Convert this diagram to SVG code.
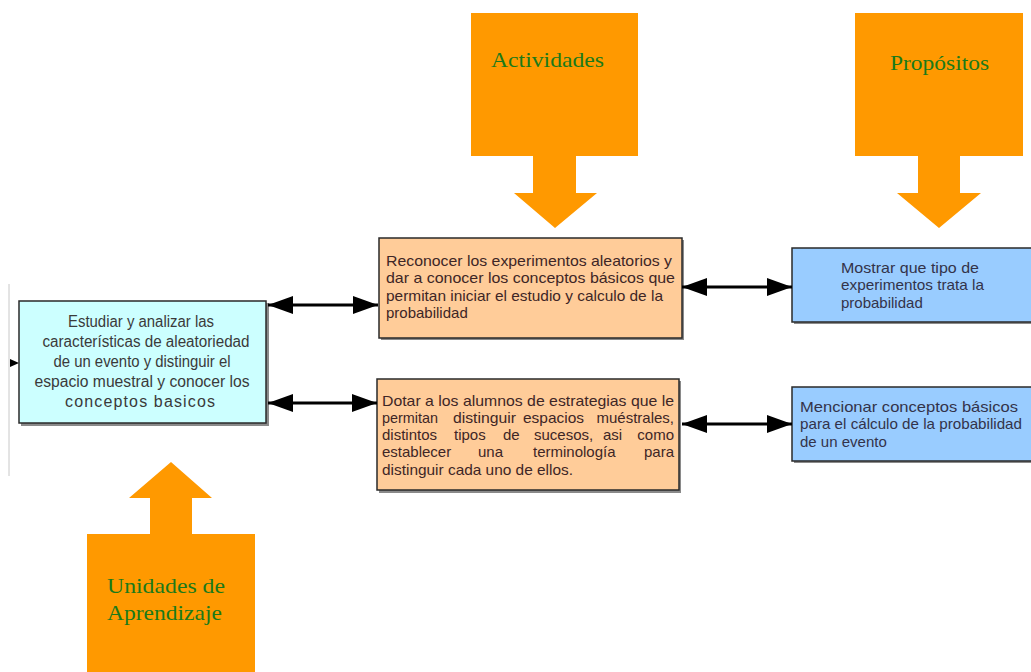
<svg xmlns="http://www.w3.org/2000/svg" width="1031" height="672" viewBox="0 0 1031 672">
  <style>
    .box { stroke: #2a2a2a; stroke-width: 1.5; }
    .shadow { fill: #8a8a8a; }
    .cyan { fill: #ccffff; }
    .peach { fill: #ffcc99; }
    .sky { fill: #99ccff; }
    .txt { font-family: "Liberation Sans", Arial, sans-serif; font-size: 15px; }
    .big { font-size: 16px; }
    .dark { fill: #3a3a3a; }
    .brown { fill: #3e2626; }
    .navy { fill: #33334a; }
    .callout { fill: #ff9900; }
    .ctext { font-family: "Liberation Serif", "DejaVu Serif", serif; font-size: 21px; fill: #1a7a1a; }
    .link { stroke: #000; stroke-width: 3; fill: none; }
  </style>
  <defs>
    <marker id="head" markerUnits="userSpaceOnUse" markerWidth="26" markerHeight="20" refX="25" refY="10" orient="auto-start-reverse">
      <path d="M0,1 L25,10 L0,19 Z" fill="#000"/>
    </marker>
  </defs>

  <rect width="1031" height="672" fill="#fff"/>

  <!-- left margin rule with small pointer -->
  <g id="left-edge">
    <line x1="9" y1="284" x2="9" y2="476" stroke="#c8c8c8" stroke-width="1"/>
    <path d="M10,359 L19,363 L10,367 Z" fill="#000"/>
  </g>

  <!-- callout: Actividades -->
  <g id="actividades">
    <path class="callout" d="M471,13 H638 V156 H576 V193 H597 L555,228 L514,193 H533 V156 H471 Z"/>
    <text class="ctext" x="491" y="67" textLength="113" lengthAdjust="spacingAndGlyphs">Actividades</text>
  </g>

  <!-- callout: Propósitos -->
  <g id="propositos">
    <path class="callout" d="M855,13 H1023 V156 H960 V193 H981 L939,228 L897,193 H918 V156 H855 Z"/>
    <text class="ctext" x="890" y="70" textLength="99" lengthAdjust="spacingAndGlyphs">Propósitos</text>
  </g>

  <!-- callout: Unidades de Aprendizaje -->
  <g id="unidades">
    <path class="callout" d="M87,534 H150 V498 H129 L171,462 L212,498 H192 V534 H255 V672 H87 Z"/>
    <text class="ctext" x="107" y="593" textLength="118" lengthAdjust="spacingAndGlyphs">Unidades de</text>
    <text class="ctext" x="107" y="620" textLength="115" lengthAdjust="spacingAndGlyphs">Aprendizaje</text>
  </g>

  <!-- unit box -->
  <g id="unidad">
    <rect class="shadow" x="21" y="303" width="248" height="123"/>
    <rect class="box cyan" x="19" y="301" width="247" height="122"/>
    <g class="txt big dark" text-anchor="middle">
      <text x="141" y="327" textLength="146" lengthAdjust="spacingAndGlyphs">Estudiar y analizar las</text>
      <text x="146" y="347" textLength="207" lengthAdjust="spacingAndGlyphs">características de aleatoriedad</text>
      <text x="142" y="367" textLength="177" lengthAdjust="spacingAndGlyphs">de un evento y distinguir el</text>
      <text x="142" y="387" textLength="215" lengthAdjust="spacingAndGlyphs">espacio muestral y conocer los</text>
      <text x="140" y="407" textLength="150" lengthAdjust="spacing">conceptos basicos</text>
    </g>
  </g>

  <!-- activity 1 -->
  <g id="actividad-1">
    <rect class="shadow" x="381" y="240" width="303" height="100"/>
    <rect class="box peach" x="379" y="238" width="303" height="100"/>
    <g class="txt brown">
      <text x="386" y="266" textLength="286" lengthAdjust="spacingAndGlyphs">Reconocer  los experimentos aleatorios y</text>
      <text x="386" y="283" textLength="289" lengthAdjust="spacingAndGlyphs">dar a  conocer los conceptos básicos  que</text>
      <text x="386" y="301" textLength="277" lengthAdjust="spacingAndGlyphs">permitan iniciar el estudio y calculo de la</text>
      <text x="386" y="318">probabilidad</text>
    </g>
  </g>

  <!-- activity 2: justified paragraph, stretched lines set word by word -->
  <g id="actividad-2">
    <rect class="shadow" x="379" y="381" width="302" height="112"/>
    <rect class="box peach" x="377" y="379" width="302" height="111"/>
    <g class="txt brown">
      <text x="382" y="406" textLength="292" lengthAdjust="spacingAndGlyphs">Dotar a los alumnos de estrategias que le</text>
      <text x="382" y="423" textLength="56" lengthAdjust="spacingAndGlyphs">permitan</text>
      <text x="453" y="423" textLength="63" lengthAdjust="spacingAndGlyphs">distinguir</text>
      <text x="523" y="423" textLength="61" lengthAdjust="spacingAndGlyphs">espacios</text>
      <text x="674" y="423" text-anchor="end">muéstrales,</text>
      <text x="382" y="440">distintos</text>
      <text x="454" y="440">tipos</text>
      <text x="503" y="440">de</text>
      <text x="534" y="440">sucesos,</text>
      <text x="603" y="440">asi</text>
      <text x="674" y="440" text-anchor="end">como</text>
      <text x="382" y="457">establecer</text>
      <text x="478" y="457">una</text>
      <text x="533" y="457">terminología</text>
      <text x="674" y="457" text-anchor="end">para</text>
      <text x="382" y="475" textLength="191" lengthAdjust="spacingAndGlyphs">distinguir cada uno de ellos.</text>
    </g>
  </g>

  <!-- purpose 1 -->
  <g id="proposito-1">
    <rect class="shadow" x="794" y="250" width="240" height="74"/>
    <rect class="box sky" x="792" y="248" width="242" height="74"/>
    <g class="txt navy">
      <text x="841" y="273" textLength="138" lengthAdjust="spacingAndGlyphs">Mostrar  que tipo de</text>
      <text x="841" y="290" textLength="143" lengthAdjust="spacingAndGlyphs">experimentos trata la</text>
      <text x="841" y="308">probabilidad</text>
    </g>
  </g>

  <!-- purpose 2 -->
  <g id="proposito-2">
    <rect class="shadow" x="794" y="389" width="240" height="74"/>
    <rect class="box sky" x="792" y="387" width="242" height="74"/>
    <g class="txt navy">
      <text x="800" y="412" textLength="218" lengthAdjust="spacingAndGlyphs">Mencionar  conceptos básicos</text>
      <text x="800" y="429" textLength="222" lengthAdjust="spacingAndGlyphs">para el cálculo de la probabilidad</text>
      <text x="800" y="447">de un evento</text>
    </g>
  </g>

  <!-- two-way links between columns -->
  <g id="connectors">
    <line class="link" x1="268" y1="305" x2="378" y2="305" marker-start="url(#head)" marker-end="url(#head)"/>
    <line class="link" x1="268" y1="403" x2="377" y2="403" marker-start="url(#head)" marker-end="url(#head)"/>
    <line class="link" x1="682" y1="287" x2="792" y2="287" marker-start="url(#head)" marker-end="url(#head)"/>
    <line class="link" x1="682" y1="424" x2="792" y2="424" marker-start="url(#head)" marker-end="url(#head)"/>
  </g>
</svg>
